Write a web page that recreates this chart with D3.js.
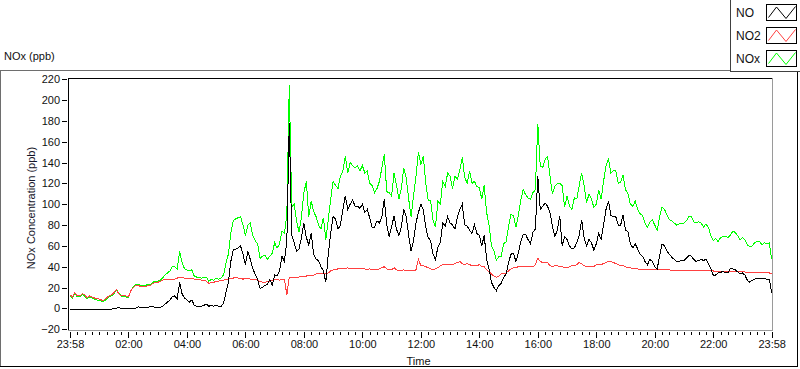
<!DOCTYPE html>
<html><head><meta charset="utf-8">
<script src="https://cdn.jsdelivr.net/npm/d3@7/dist/d3.min.js"></script>
<style>
html,body{margin:0;padding:0;background:#fff;}
svg{display:block;font-family:"Liberation Sans",Arial,sans-serif;}
</style></head><body>
<svg id="chart" width="800" height="369"></svg>
<script>
// samples every 5 minutes, starting at 23:58
const sampleMinutes = 5;

const NO = [
-1,-1,-1,-1,-1,-1,-1,-1,-1,-1,
-1,-1,-1,-1,-1,-1,-1,-1,0,0,
1,0,0,0,0,0,0,0,1.5,1,
1,1,1,1.5,1.5,1,1,1,2,4,
6,8,11,12,9,25,14,10,8,6,
8,3,2,2,2,3,4,2,3,2,
3,2,2,5,15,25,45,56,57,58,
60,52,42,55,47,38,33,28,19,20,
22,23,28,22,32,31,36,50,45,65,
178,70,63,55,57,68,82,68,61,72,
52,47,46,40,36,25,52,72,88,86,
76,80,95,108,95,100,104,98,98,96,
100,92,95,87,78,78,84,82,88,105,
80,69,78,89,76,70,78,95,88,70,
55,65,82,92,100,95,78,68,65,52,
47,59,63,82,79,88,82,80,76,88,
95,100,80,79,75,72,80,72,70,60,
70,47,38,25,20,17,22,24,30,33,
44,52,53,45,53,64,71,71,66,62,
73,76,127,95,98,101,98,92,79,69,
75,89,60,69,66,60,57,58,63,70,
85,68,60,66,63,56,62,72,66,80,
95,103,89,88,88,80,80,90,75,74,
62,58,62,57,52,50,45,42,47,45,
40,38,50,62,60,55,52,49,47,45,
45,46,46,48,51,50,47,45,46,47,
46,47,43,38,32,32,34,34,36,34,
34,38,38,37,35,33,34,32,27,25,
27,28,29,29,29,29,28,28,15
];

const NO2 = [
13,11,15,12,12,14,13,10,12,11,
10,9,9,8,8,10,12,13,15,18,
14,12,12,12,11,17,20,22,22,21,
21,21,22,22,24,25,25,26,27,28,
28,28,28,28,29,30,30,29,29,29,
29,28,28,28,27,27,26,24,25,25,
26,26,27,27,28,28,29,29,30,29,
29,28,29,29,28,28,28,27,26,25,
25,26,26,27,28,28,27,28,28,13,
30,30,30,30,30,31,31,31,32,32,
32,33,33,33,33,33,34,36,37,37,
38,38,38,38,39,38,38,38,38,38,
38,38,37,38,37,37,37,38,39,40,
38,37,37,39,37,36,36,37,36,36,
36,36,37,47,41,41,40,39,38,37,
38,39,41,42,42,42,42,42,43,44,
45,43,42,43,42,41,41,41,42,40,
40,37,35,33,31,30,31,33,33,34,
36,38,39,39,40,40,40,40,40,40,
40,42,48,45,44,44,44,41,40,41,
41,40,40,39,39,40,41,41,42,44,
43,41,40,40,40,40,42,42,42,43,
44,45,45,44,43,42,41,41,40,39,
39,38,38,38,37,37,37,37,37,37,
37,37,37,37,37,37,37,36,36,36,
36,36,36,36,36,36,36,36,36,36,
36,36,36,36,36,35,35,35,35,35,
35,35,35,35,35,35,35,35,34,34,
34,34,34,34,34,34,34,34,33
];

const NOx = [
12,10,14,11,11,13,12,9,11,10,
9,8,8,7,7,9,11,12,14,18,
15,12,11,11,10,17,21,23,23,22,
22,22,23,23,25,26,26,27,29,32,
34,36,40,40,38,55,44,38,37,36,
37,31,30,30,29,30,30,26,28,27,
29,28,29,32,43,52,72,84,86,87,
88,80,70,80,82,70,65,62,48,50,
51,47,50,53,63,58,62,74,72,90,
214,97,100,84,73,88,111,122,88,103,
93,88,80,76,87,66,85,105,122,118,
115,127,132,146,130,140,137,135,137,132,
137,130,132,120,118,111,115,122,135,148,
112,111,108,130,118,105,115,135,125,105,
88,108,127,150,138,146,120,104,103,85,
78,103,100,122,117,130,127,115,127,124,
133,145,126,120,132,120,122,117,116,105,
118,92,80,60,55,46,50,50,62,64,
79,90,89,78,89,104,114,109,106,105,
111,114,177,137,135,143,146,127,110,117,
120,120,118,97,108,98,95,106,105,118,
130,118,101,110,105,97,100,114,105,122,
137,144,130,132,132,120,121,128,114,110,
100,98,103,95,91,89,82,78,83,85,
80,75,88,97,95,90,85,84,82,80,
81,81,82,84,88,88,83,82,83,82,
78,81,78,70,65,67,64,68,69,69,
68,70,74,73,70,66,68,66,61,59,
60,63,64,64,61,63,62,63,47
];

const seriesNames = ["NO", "NO2", "NOx"];
const seriesColors = ["#000000", "#ff4040", "#00ff00"];
const yTickValues = [-20, 0, 20, 40, 60, 80, 100, 120, 140, 160, 180, 200, 220];
const xTickHours = [0, 2, 4, 6, 8, 10, 12, 14, 16, 18, 20, 22, 24];
const xTickLabels = ["23:58", "02:00", "04:00", "06:00", "08:00", "10:00", "12:00",
                     "14:00", "16:00", "18:00", "20:00", "22:00", "23:58"];

const svg = d3.select("#chart");
const x = d3.scaleLinear().domain([0, 24]).range([70, 771.7]);
const y = d3.scaleLinear().domain([-20, 220]).range([329.2, 79.2]);

// outer frame
svg.append("line").attr("x1", 0).attr("x2", 730).attr("y1", 70.5).attr("y2", 70.5).attr("stroke", "#6e6e6e");
svg.append("line").attr("x1", 0.5).attr("x2", 0.5).attr("y1", 70).attr("y2", 367).attr("stroke", "#6e6e6e");
svg.append("line").attr("x1", 0).attr("x2", 798).attr("y1", 366.5).attr("y2", 366.5).attr("stroke", "#000");
svg.append("line").attr("x1", 797.5).attr("x2", 797.5).attr("y1", 72).attr("y2", 367).attr("stroke", "#000");

// legend box
svg.append("line").attr("x1", 730.5).attr("x2", 730.5).attr("y1", 0).attr("y2", 72).attr("stroke", "#404040");
svg.append("line").attr("x1", 730).attr("x2", 800).attr("y1", 71.5).attr("y2", 71.5).attr("stroke", "#404040");

// y-axis title at top
svg.append("text").attr("x", 4).attr("y", 60).attr("font-size", 11).attr("fill", "#111").text("NOx (ppb)");

// plot borders
svg.append("line").attr("x1", 68).attr("x2", 773).attr("y1", 78.5).attr("y2", 78.5).attr("stroke", "#000");
svg.append("line").attr("x1", 68.5).attr("x2", 68.5).attr("y1", 78).attr("y2", 331).attr("stroke", "#000");
svg.append("line").attr("x1", 68).attr("x2", 773).attr("y1", 330.5).attr("y2", 330.5).attr("stroke", "#9a9a9a");
svg.append("line").attr("x1", 772.5).attr("x2", 772.5).attr("y1", 78).attr("y2", 331).attr("stroke", "#9a9a9a");

// y axis
const yAxis = d3.axisLeft(y).tickValues(yTickValues).tickSize(5).tickPadding(2).tickSizeOuter(0);
const yg = svg.append("g").attr("transform", "translate(67,0)").call(yAxis);
yg.select(".domain").remove();
yg.selectAll("text").attr("font-size", 11).attr("font-family", "Liberation Sans, Arial, sans-serif").attr("fill", "#111");
yg.selectAll("line").attr("stroke", "#000").attr("shape-rendering", "crispEdges");

// x axis minor ticks
const minorHours = d3.range(0, 24.001, 0.25).filter(h => Math.abs(h / 2 - Math.round(h / 2)) > 1e-6);
const xMinor = d3.axisBottom(x).tickValues(minorHours).tickSize(3).tickFormat("").tickSizeOuter(0);
const xmg = svg.append("g").attr("transform", "translate(0,331.5)").call(xMinor);
xmg.select(".domain").remove();
xmg.selectAll("line").attr("stroke", "#000").attr("shape-rendering", "crispEdges");

// x axis major ticks
const xAxis = d3.axisBottom(x).tickValues(xTickHours).tickSize(6).tickPadding(3)
  .tickFormat((d, i) => xTickLabels[i]).tickSizeOuter(0);
const xg = svg.append("g").attr("transform", "translate(0,331.5)").call(xAxis);
xg.select(".domain").remove();
xg.selectAll("text").attr("font-size", 11).attr("font-family", "Liberation Sans, Arial, sans-serif").attr("fill", "#111");
xg.selectAll("line").attr("stroke", "#000").attr("shape-rendering", "crispEdges");

// axis titles
svg.append("text").attr("x", 418.5).attr("y", 365).attr("text-anchor", "middle")
  .attr("font-size", 11).attr("fill", "#111").text("Time");
svg.append("text").attr("transform", "translate(35,208) rotate(-90)").attr("text-anchor", "middle")
  .attr("font-size", 11).attr("fill", "#141428").text("NOx Concentration (ppb)");

// data lines
const seriesData = [NO, NO2, NOx];
const line = d3.line().x((d, i) => x(i * sampleMinutes / 60)).y(d => y(d));
const clip = svg.append("clipPath").attr("id", "plotclip").append("rect")
  .attr("x", 69).attr("y", 79).attr("width", 703).attr("height", 251);
const drawOrder = [2, 1, 0];
const pg = svg.append("g").attr("clip-path", "url(#plotclip)");
drawOrder.forEach(k => {
  pg.append("path").datum(seriesData[k]).attr("d", line)
    .attr("fill", "none").attr("stroke", seriesColors[k]).attr("stroke-width", 1)
    .attr("shape-rendering", "crispEdges");
});

// legend
const swatch = d3.line();
seriesNames.forEach((name, k) => {
  const top = 4.5 + 23 * k;
  svg.append("text").attr("x", 736).attr("y", top + 12.5).attr("font-size", 12).attr("fill", "#111").text(name);
  svg.append("rect").attr("x", 766.5).attr("y", top).attr("width", 30).attr("height", 16)
    .attr("fill", "#fff").attr("stroke", "#000");
  svg.append("path").attr("d", swatch([[768.5, top + 13], [776.5, top + 2.5], [786, top + 14], [795.5, top + 2]]))
    .attr("fill", "none").attr("stroke", seriesColors[k]).attr("stroke-width", 1);
});
</script>
</body></html>
